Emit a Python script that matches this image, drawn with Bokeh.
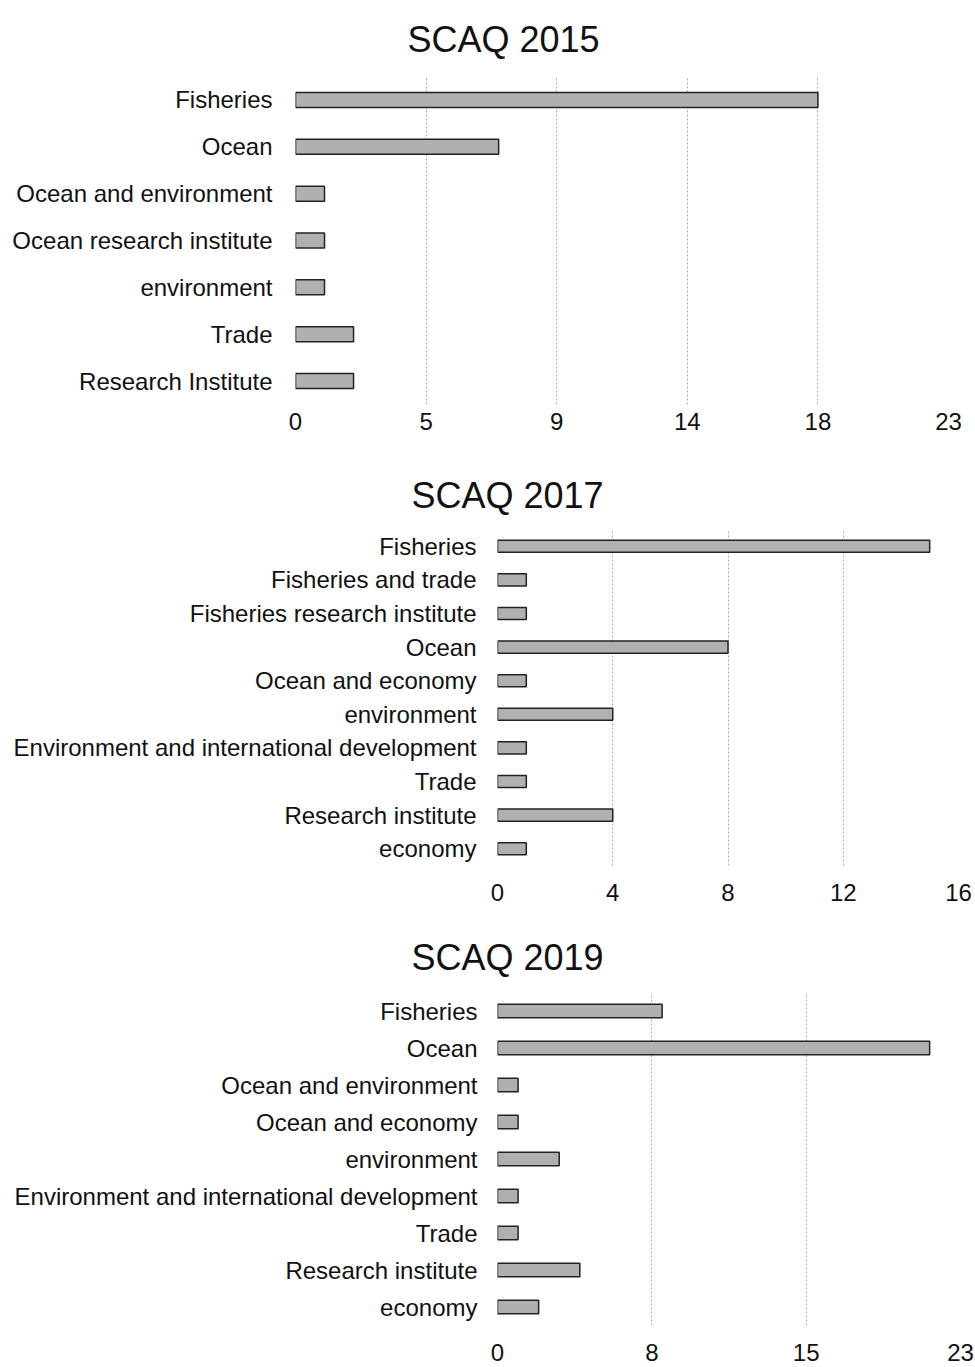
from bokeh.plotting import figure
from bokeh.layouts import column, row
from bokeh.models import FixedTicker, Title
from bokeh.embed import file_html
from bokeh.resources import INLINE

# ---- data ----
cats_2015 = ["Fisheries", "Ocean", "Ocean and environment", "Ocean research institute",
             "environment", "Trade", "Research Institute"]
vals_2015 = [18, 7, 1, 1, 1, 2, 2]
ticks_2015 = [0, 4.5, 9, 13.5, 18, 22.5]
labels_2015 = ["0", "5", "9", "14", "18", "23"]

cats_2017 = ["Fisheries", "Fisheries and trade", "Fisheries research institute", "Ocean",
             "Ocean and economy", "environment", "Environment and international development",
             "Trade", "Research institute", "economy"]
vals_2017 = [15, 1, 1, 8, 1, 4, 1, 1, 4, 1]
ticks_2017 = [0, 4, 8, 12, 16]
labels_2017 = ["0", "4", "8", "12", "16"]

cats_2019 = ["Fisheries", "Ocean", "Ocean and environment", "Ocean and economy",
             "environment", "Environment and international development", "Trade",
             "Research institute", "economy"]
vals_2019 = [8, 21, 1, 1, 3, 1, 1, 4, 2]
ticks_2019 = [0, 7.5, 15, 22.5]
labels_2019 = ["0", "8", "15", "23"]

FONT = "Liberation Sans"


def make_panel(title, cats, vals, ticks, labels, height, borders, bar_h,
               title_offset, title_standoff, ystand, xstand):
    top, bottom, left, right = borders
    p = figure(width=975, height=height, y_range=list(reversed(cats)),
               x_range=(0, ticks[-1]), output_backend="svg", toolbar_location=None,
               min_border_top=top, min_border_bottom=bottom,
               min_border_left=left, min_border_right=right)
    p.title = Title(text=title, align="left", offset=title_offset,
                    text_font=FONT, text_font_size="36px", text_font_style="normal",
                    text_color="#111111", standoff=title_standoff)
    p.hbar(y=cats, right=vals, left=0, height=bar_h, fill_color="#b0b0b0",
           line_color="#222222", line_width=1.5)
    ticker = FixedTicker(ticks=ticks)
    p.xaxis.ticker = ticker
    p.xgrid.ticker = ticker
    p.xaxis.major_label_overrides = {float(t): l for t, l in zip(ticks, labels)}
    p.xgrid.grid_line_color = "#a8a8a8"
    p.xgrid.grid_line_dash = "2 2"
    p.xgrid.grid_line_width = 1
    p.ygrid.grid_line_color = None
    for ax in (p.xaxis, p.yaxis):
        ax.axis_line_color = None
        ax.major_tick_line_color = None
        ax.minor_tick_line_color = None
        ax.major_label_text_font = FONT
        ax.major_label_text_font_size = "24px"
        ax.major_label_text_color = "#111111"
    p.yaxis.major_label_standoff = ystand
    p.xaxis.major_label_standoff = xstand
    p.outline_line_color = None
    p.background_fill_color = "white"
    p.border_fill_color = "white"
    return p


p1 = make_panel("SCAQ 2015", cats_2015, vals_2015, ticks_2015, labels_2015, 458,
                (75, 54, 295, 27), 0.32, 112, 33, 17, 2)
p2 = make_panel("SCAQ 2017", cats_2017, vals_2017, ticks_2017, labels_2017, 452,
                (71, 45, 497, 17), 0.36, -86, 27, 15, 12)
p3 = make_panel("SCAQ 2019", cats_2019, vals_2019, ticks_2019, labels_2019, 457,
                (82, 42, 497, 15), 0.36, -86, 29, 14, 12)

layout = column(row(p1), row(p2), row(p3), spacing=0)
open("out.html", "w").write(file_html(layout, INLINE))
